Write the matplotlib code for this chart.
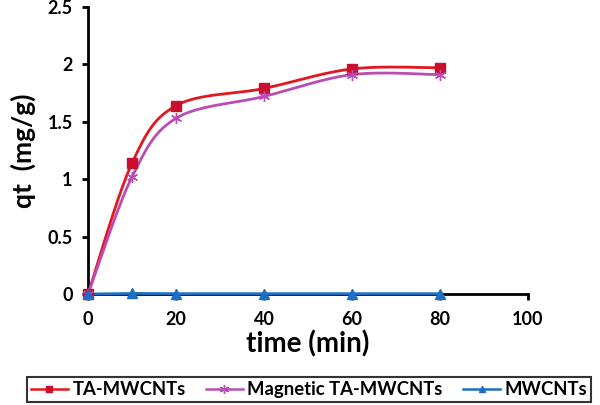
import numpy as np
import matplotlib
matplotlib.use("Agg")
import matplotlib.pyplot as plt
from matplotlib.lines import Line2D

plt.rcParams['font.family'] = ['Lato', 'DejaVu Sans']
plt.rcParams['font.weight'] = 'bold'

time_min = [0, 10, 20, 40, 60, 80]
ta_mwcnts = [0.0, 1.14, 1.64, 1.79, 1.96, 1.97]
mag_ta_mwcnts = [0.0, 1.02, 1.53, 1.72, 1.91, 1.91]
mwcnts = [0.0, 0.005, 0.003, 0.003, 0.003, 0.003]
x_ticks = [0, 20, 40, 60, 80, 100]
y_ticks = [0, 0.5, 1, 1.5, 2, 2.5]
y_tick_labels = ['0', '0.5', '1', '1.5', '2', '2.5']


def smooth(xs, ys, n=40):
    """Excel-style smoothed line: cubic Bezier with Catmull-Rom control points."""
    P = np.column_stack([xs, ys]).astype(float)
    out = [P[0]]
    m = len(P)
    t = np.linspace(0, 1, n)[1:, None]
    for i in range(m - 1):
        p0 = P[i - 1] if i > 0 else P[i]
        p1 = P[i]
        p2 = P[i + 1]
        p3 = P[i + 2] if i + 2 < m else P[i + 1]
        c1 = p1 + (p2 - p0) / 6.0
        c2 = p2 - (p3 - p1) / 6.0
        seg = ((1 - t) ** 3) * p1 + 3 * ((1 - t) ** 2) * t * c1 + 3 * (1 - t) * t ** 2 * c2 + t ** 3 * p2
        out.extend(seg)
    out = np.array(out)
    return out[:, 0], out[:, 1]


fig = plt.figure(figsize=(6, 4.05), dpi=100)
ax = fig.add_axes([0.1467, 0.274, 0.7333, 0.709])

red = '#e3171f'
red_m = '#c8102e'
mag = '#b94db5'
blue = '#1c6fc4'

series = [
    (ta_mwcnts, red, red_m, 's', 6.5, 'TA-MWCNTs'),
    (mag_ta_mwcnts, mag, mag, (6, 2, 0), 8, 'Magnetic TA-MWCNTs'),
    (mwcnts, blue, blue, '^', 6.5, 'MWCNTs'),
]
handles = []
for ys, lc, mc, mk, ms, lab in series:
    sx, sy = smooth(time_min, ys)
    ax.plot(sx, sy, color=lc, lw=2.0, solid_capstyle='round', zorder=3, clip_on=False)
    ax.plot(time_min, ys, linestyle='none', marker=mk, markersize=ms, color=mc,
            markeredgecolor=mc, markeredgewidth=1.0, zorder=4, clip_on=False)
    handles.append(Line2D([], [], color=lc, lw=1.8, marker=mk, markersize=ms - 1.5,
                          markerfacecolor=mc, markeredgecolor=mc, label=lab))

ax.set_xlim(0, 100)
ax.set_ylim(0, 2.5)
ax.set_xticks(x_ticks)
ax.set_yticks(y_ticks)
ax.set_yticklabels(y_tick_labels)
for s in ['top', 'right']:
    ax.spines[s].set_visible(False)
for s in ['left', 'bottom']:
    ax.spines[s].set_linewidth(2.0)
    ax.spines[s].set_color('black')
ax.tick_params(axis='both', direction='out', length=4, width=2.0, labelsize=13)
ax.tick_params(axis='x', pad=8)
ax.tick_params(axis='y', pad=7)
for lbl in ax.get_xticklabels() + ax.get_yticklabels():
    lbl.set_fontweight('bold')

ax.set_xlabel('time (min)', fontsize=20, fontweight='bold', labelpad=2)
ax.set_ylabel('qt  (mg/g)', fontsize=19, fontweight='bold', labelpad=8)

leg = fig.legend(handles=handles, loc='center', bbox_to_anchor=(0.515, 0.0383),
                 ncol=3, frameon=True, fancybox=False, edgecolor='black',
                 prop={'weight': 'bold', 'size': 13.3}, handlelength=2.0,
                 handletextpad=0.25, columnspacing=1.1, borderpad=0.2)
leg.get_frame().set_linewidth(1.5)

fig.savefig('out.png', dpi=100)
